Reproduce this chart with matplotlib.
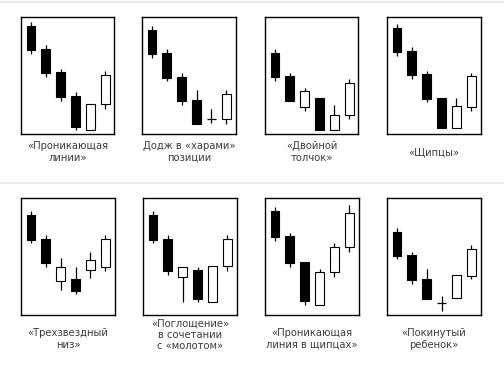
import matplotlib.pyplot as plt
from matplotlib.lines import Line2D

# Ценовые значения (условные единицы, 0 = низ рамки) для каждой фигуры
captions = [
    "«Проникающая\nлинии»",
    "Додж в «харами»\nпозиции",
    "«Двойной\nтолчок»",
    "«Щипцы»",
    "«Трехзвездный\nниз»",
    "«Поглощение»\nв сочетании\nс «молотом»",
    "«Проникающая\nлиния в щипцах»",
    "«Покинутый\nребенок»",
]

opens = [
    [108, 85, 62, 38, 4, 30],
    [104, 81, 57, 34, 15, 15],
    [81, 58, 27, 36, 4, 19],
    [106, 83, 60, 36, 6, 27],
    [100, 76, 34, 36, 45, 48],
    [100, 76, 38, 45, 13, 49],
    [104, 79, 53, 10, 43, 68],
    [83, 60, 36, 12, 17, 39],
]
closes = [
    [84, 61, 37, 7, 30, 59],
    [80, 56, 33, 10, 15, 40],
    [57, 33, 43, 4, 19, 51],
    [82, 59, 35, 6, 28, 58],
    [75, 52, 48, 24, 55, 76],
    [75, 44, 48, 16, 49, 76],
    [78, 52, 14, 43, 68, 102],
    [59, 35, 16, 12, 40, 66],
]
highs = [
    [112, 89, 65, 42, 30, 63],
    [108, 85, 61, 44, 25, 44],
    [85, 61, 46, 36, 29, 55],
    [110, 87, 63, 36, 36, 61],
    [104, 80, 57, 48, 63, 80],
    [104, 80, 48, 48, 49, 80],
    [108, 82, 53, 46, 72, 110],
    [87, 63, 46, 19, 40, 70],
]
lows = [
    [80, 57, 33, 4, 4, 25],
    [76, 53, 29, 10, 11, 10],
    [53, 33, 23, 4, 4, 15],
    [78, 55, 32, 6, 6, 23],
    [72, 48, 25, 21, 37, 44],
    [72, 40, 13, 13, 13, 44],
    [74, 48, 10, 10, 38, 63],
    [56, 31, 16, 4, 17, 36],
]

# положение рамок в пикселях: (лево, верх, ширина)
boxes = [
    (21, 17, 93), (142, 17, 94), (265, 17, 93), (387, 17, 94),
    (21, 198, 94), (143, 198, 94), (265, 198, 94), (387, 198, 94),
]
caption_y = [152, 152, 152, 152, 339, 335, 339, 339]

W, H = 504, 376
BOX_H = 117
BODY_W = 0.58


def draw_candles(ax, o, h, l, c):
    x = list(range(len(o)))
    for i in x:
        ax.vlines(i, l[i], h[i], color="black", lw=0.9, zorder=1)
        if o[i] == c[i]:
            ax.hlines(o[i], i - BODY_W / 2, i + BODY_W / 2, color="black", lw=0.9, zorder=2)
            continue
        face = "black" if c[i] < o[i] else "white"
        ax.bar(i, abs(c[i] - o[i]), bottom=min(o[i], c[i]), width=BODY_W,
               color=face, edgecolor="black", linewidth=0.8, zorder=2)


fig = plt.figure(figsize=(W / 100, H / 100), dpi=100)
fig.patch.set_facecolor("white")

for k, (left, top, width) in enumerate(boxes):
    ax = fig.add_axes([left / W, 1 - (top + BOX_H) / H, width / W, BOX_H / H])
    draw_candles(ax, opens[k], highs[k], lows[k], closes[k])
    ax.set_xlim(-0.66, -0.66 + width / 14.9)
    ax.set_ylim(0, BOX_H)
    ax.set_xticks([])
    ax.set_yticks([])
    for sp in ax.spines.values():
        sp.set_linewidth(1.0)
        sp.set_color("black")
    fig.text((left + width / 2) / W, 1 - caption_y[k] / H, captions[k],
             ha="center", va="center", multialignment="center",
             fontsize=7.2, color="#3c3c3c", linespacing=1.15,
             family="DejaVu Sans")

# светлые разделительные линии
for y in (1.5, 182.5):
    fig.add_artist(Line2D([0, 1], [1 - y / H, 1 - y / H], color="#e8e8e8", lw=1.2))

fig.savefig("out.png", dpi=100)
